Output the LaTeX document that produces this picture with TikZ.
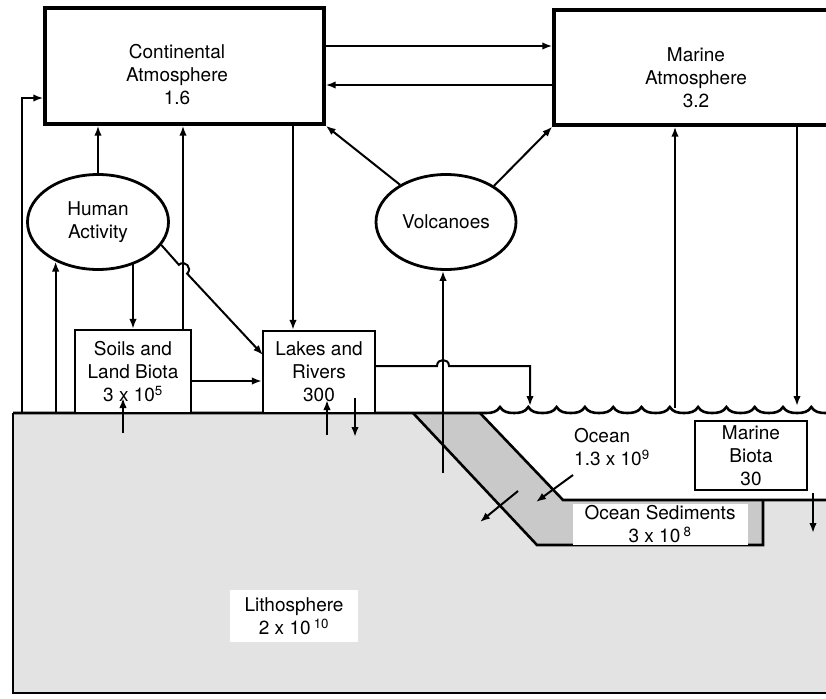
\documentclass[tikz,border=0pt]{standalone}
\usepackage{fontspec}
\setmainfont{TeX Gyre Heros}
\usetikzlibrary{arrows.meta,shapes.geometric,calc}
\newcommand\labfont{\fontsize{19}{23}\selectfont}
\begin{document}
\begin{tikzpicture}[x=1pt,y=-1pt,
  arr/.style={line width=2pt,-{Latex[length=10pt,width=7.5pt]}},
  ln/.style={line width=2pt},
  outl/.style={line width=2.6pt},
  bigbox/.style={draw,line width=3.4pt,rectangle,inner sep=0pt,fill=white},
  smallbox/.style={draw,line width=2.2pt,fill=white,rectangle,inner sep=0pt,align=center,font=\labfont},
  oval/.style={draw,line width=2.8pt,ellipse,inner sep=0pt,align=center,font=\labfont,fill=white},
  txt/.style={align=center,font=\labfont,inner sep=0pt},
  whitelab/.style={fill=white,inner sep=0pt,align=center,font=\labfont},
]
\useasboundingbox (0,0) rectangle (826,698);
\begin{scope}
\clip (0,0) rectangle (826,698);
% helper coordinates
\coordinate (y46) at (0,46);
\coordinate (y85) at (0,85);
\coordinate (y98) at (0,98);
\coordinate (y366) at (0,366);
\coordinate (y381) at (0,381);
\coordinate (y398) at (0,398);
\coordinate (y400) at (0,400);
\coordinate (x22) at (22,0);
\coordinate (x183) at (183,0);
\coordinate (x293) at (293,0);

% lithosphere
\node[rectangle,fill=gray!22,minimum width=840pt,minimum height=280pt,inner sep=0pt,anchor=north west] (lith) at (13,413) {};
% ocean water
\fill[white] (480,413) -- (563,500) -- (840,500) -- (840,413) -- cycle;
% sediment band
\fill[gray!42] (413,413) -- (480,413) -- (563,500) -- (763,500) -- (763,545) -- (537,545) -- cycle;
% outlines
\draw[outl] (13,413) -- (13,693) -- (840,693);
\draw[outl] (413,413) -- (537,545) -- (763,545) -- (763,500);
\draw[outl] (480,413) -- (563,500) -- (840,500);
\draw[outl] (13,413) -- (486,413) .. controls (492,413) and (497,412) .. (500,407)
  \foreach \i in {0,...,11} { .. controls ({500+28.3*\i+3},412) and ({500+28.3*\i+8},413) .. ({500+28.3*\i+14.15},413) .. controls ({500+28.3*\i+20.3},413) and ({500+28.3*\i+25.3},412) .. ({500+28.3*\i+28.3},407) };

% labels in the ground
\node[whitelab,minimum width=175pt,minimum height=41pt] (sed) at (660,524) {Ocean Sediments\\3 x 10\,\textsuperscript{8}};
\node[whitelab,minimum width=128pt,minimum height=52pt] (lithlab) at (294,616) {Lithosphere\\2 x 10\,\textsuperscript{10}};
\node[txt,anchor=west,align=left] (ocean) at (574,447) {Ocean\\1.3 x 10\textsuperscript{9}};

% boxes
\node[bigbox,minimum width=279pt,minimum height=116pt] (ca) at (184.5,66) {};
\node[txt] (catext) at (177,75) {Continental\\Atmosphere\\1.6};
\node[bigbox,minimum width=290pt,minimum height=115pt] (ma) at (699,67.5) {};
\node[txt] (matext) at (696,78) {Marine\\Atmosphere\\3.2};
\node[oval,minimum width=141pt,minimum height=95pt] (ha) at (98,222) {Human\\Activity};
\node[oval,minimum width=140pt,minimum height=95pt] (volc) at (446,222) {Volcanoes};
\node[smallbox,minimum width=116pt,minimum height=83pt] (soils) at (133,371.5) {Soils and\\Land Biota\\3 x 10\textsuperscript{5}};
\node[smallbox,minimum width=112pt,minimum height=82pt] (lakes) at (319,372) {Lakes and\\Rivers\\300};
\node[smallbox,minimum width=112pt,minimum height=69pt] (biota) at (751,455.5) {Marine\\Biota\\30};

% free-end coordinates
\coordinate (lakesin) at (263,355);
\coordinate (v0) at (443,473);
\coordinate (o1) at (675,408);
\coordinate (o2) at (797,406);
\coordinate (b1) at (813,493);
\coordinate (b2) at (813,533);
\coordinate (l1) at (123,433);
\coordinate (l2) at (327,435);
\coordinate (l3) at (355,398);
\coordinate (l4) at (355,437);
\coordinate (d1) at (573,475);
\coordinate (d2) at (536,502);
\coordinate (d3) at (518,491);
\coordinate (d4) at (480,522);

% connectors
\draw[arr] (ca.east |- y46) -- (ma.west |- y46);
\draw[arr] (ma.west |- y85) -- (ca.east |- y85);
\draw[arr] (lith.north -| x22) |- (ca.west |- y98);
\draw[arr] (lith.north -| ha.223) -- (ha.223);
\draw[arr] (ha.north) -- (ha.north |- ca.south);
\draw[arr] (soils.north -| x183) -- (x183 |- ca.south);
\draw[arr] (soils.north |- ha.310) -- (soils.north);
\draw[arr] (ha.-20) -- (178.9,264.8) .. controls (184.7,259.3) and (193.0,268.1) .. (187.1,273.6) -- (lakesin);
\draw[arr] (soils.east |- y381) -- (lakes.west |- y381);
\draw[arr] (ca.south -| x293) -- (lakes.north -| x293);
\draw[arr] (lakes.east |- y366) -- (437,366) .. controls (437,358) and (449,358) .. (449,366) -- (530,366) -- (530,406);
\draw[arr] (v0) -- (volc.south -| v0);
\draw[arr] (volc.141) -- (ca.south east);
\draw[arr] (volc.37) -- (ma.south west);
\draw[arr] (o1) -- (o1 |- ma.south);
\draw[arr] (ma.south -| o2) -- (o2);
\draw[arr] (b1) -- (b2);
\draw[arr] (l1) -- (l1 |- y398);
\draw[arr] (l2) -- (l2 |- y400);
\draw[arr] (l3) -- (l4);
\draw[arr] (d1) -- (d2);
\draw[arr] (d3) -- (d4);
\end{scope}
\end{tikzpicture}
\end{document}
